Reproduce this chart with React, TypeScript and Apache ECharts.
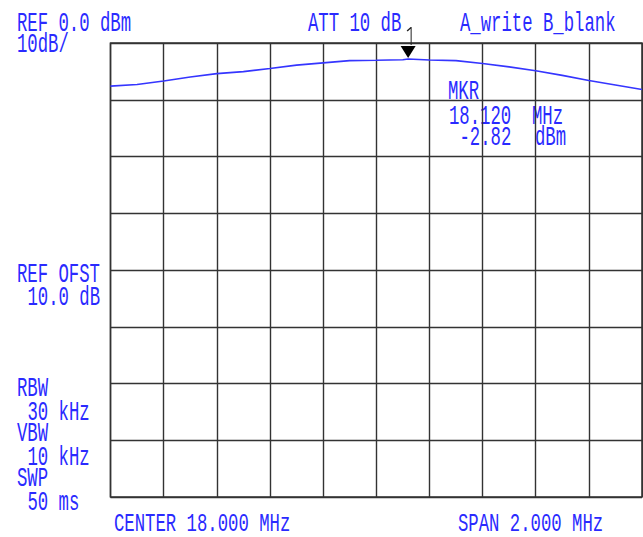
import React, { useEffect, useRef } from 'react';
import * as echarts from 'echarts';

const freqMHz = [17.0, 17.1, 17.2, 17.3, 17.4, 17.5, 17.6, 17.7, 17.8, 17.9, 18.0, 18.1, 18.12, 18.2, 18.3, 18.4, 18.5, 18.6, 18.7, 18.8, 18.9, 19.0];
const levelDbm = [-7.6, -7.3, -6.7, -6.0, -5.4, -5.05, -4.5, -3.9, -3.5, -3.1, -3.05, -2.95, -2.82, -3.0, -3.1, -3.6, -4.2, -4.9, -5.7, -6.6, -7.4, -8.2];
const markerFreq = 18.12;
const markerLevel = -2.82;

const headerTexts = ['REF 0.0 dBm', '10dB/', 'ATT 10 dB', 'A_write B_blank'];
const markerTexts = ['MKR', '18.120', 'MHz', '-2.82', 'dBm'];
const sideTexts = ['REF OFST', '10.0 dB', 'RBW', '30 kHz', 'VBW', '10 kHz', 'SWP', '50 ms'];
const footerTexts = ['CENTER 18.000 MHz', 'SPAN 2.000 MHz'];

const BLUE = '#2a2aff';
const FONT = '17.3px "Liberation Mono", "DejaVu Sans Mono", monospace';

function txt(text: string, x: number, y: number, scaleY = 1.62) {
  return {
    type: 'text',
    x,
    y,
    scaleY,
    silent: true,
    style: { text, x: 0, y: 0, fill: BLUE, font: FONT, align: 'left', verticalAlign: 'middle' },
  };
}

export default function App() {
  const ref = useRef<HTMLDivElement>(null);
  useEffect(() => {
    if (!ref.current) return;
    const chart = echarts.init(ref.current, null, { renderer: 'svg' });
    const data = freqMHz.map((f, i) => [f, levelDbm[i]]);
    chart.setOption({
      animation: false,
      backgroundColor: '#fff',
      grid: { left: 110.5, right: 1, top: 43, bottom: 40, show: true, borderColor: '#333', borderWidth: 1.5 },
      xAxis: {
        type: 'value', min: 17, max: 19, interval: 0.2,
        axisLabel: { show: false }, axisTick: { show: false },
        axisLine: { show: false },
        splitLine: { show: true, lineStyle: { color: '#333', width: 1.4 } },
      },
      yAxis: {
        type: 'value', min: -80, max: 0, interval: 10,
        axisLabel: { show: false }, axisTick: { show: false },
        axisLine: { show: false },
        splitLine: { show: true, lineStyle: { color: '#333', width: 1.4 } },
      },
      series: [
        {
          type: 'line',
          data,
          symbol: 'none',
          lineStyle: { color: '#3535ff', width: 1.6 },
          markPoint: {
            silent: true,
            label: { show: false },
            data: [
              {
                coord: [markerFreq, markerLevel],
                symbol: 'triangle',
                symbolRotate: 180,
                symbolSize: [15, 12],
                symbolOffset: [0, -7],
                itemStyle: { color: '#000' },
              },
              {
                coord: [markerFreq, markerLevel],
                symbol: 'path://M0,4L4,0L5,0L5,20L4,20L4,2L1,5Z',
                symbolSize: [5, 18],
                symbolKeepAspect: false,
                symbolOffset: [1, -23],
                itemStyle: { color: '#222' },
              },
            ],
          },
        },
      ],
      graphic: [
        txt(headerTexts[0], 17, 23.5),
        txt(headerTexts[1], 17, 44.5),
        txt(headerTexts[2], 308, 23.5),
        txt(headerTexts[3], 460, 23.5),
        txt(markerTexts[0], 448, 91.5),
        txt(markerTexts[1], 449, 116.5),
        txt(markerTexts[2], 532, 116.5),
        txt(markerTexts[3], 459.5, 138),
        txt(markerTexts[4], 535, 138),
        txt(sideTexts[0], 17, 275),
        txt(sideTexts[1], 27.5, 297.5),
        txt(sideTexts[2], 17, 389),
        txt(sideTexts[3], 27.5, 412.5),
        txt(sideTexts[4], 17, 434),
        txt(sideTexts[5], 27.5, 457.5),
        txt(sideTexts[6], 17, 479),
        txt(sideTexts[7], 27.5, 502.5),
        txt(footerTexts[0], 114, 524, 1.45),
        txt(footerTexts[1], 458, 524, 1.45),
      ],
    });
    return () => chart.dispose();
  }, []);
  return (
    <div
      ref={ref}
      style={{ position: 'fixed', left: 0, top: 0, width: 643, height: 537, background: '#fff' }}
    />
  );
}
